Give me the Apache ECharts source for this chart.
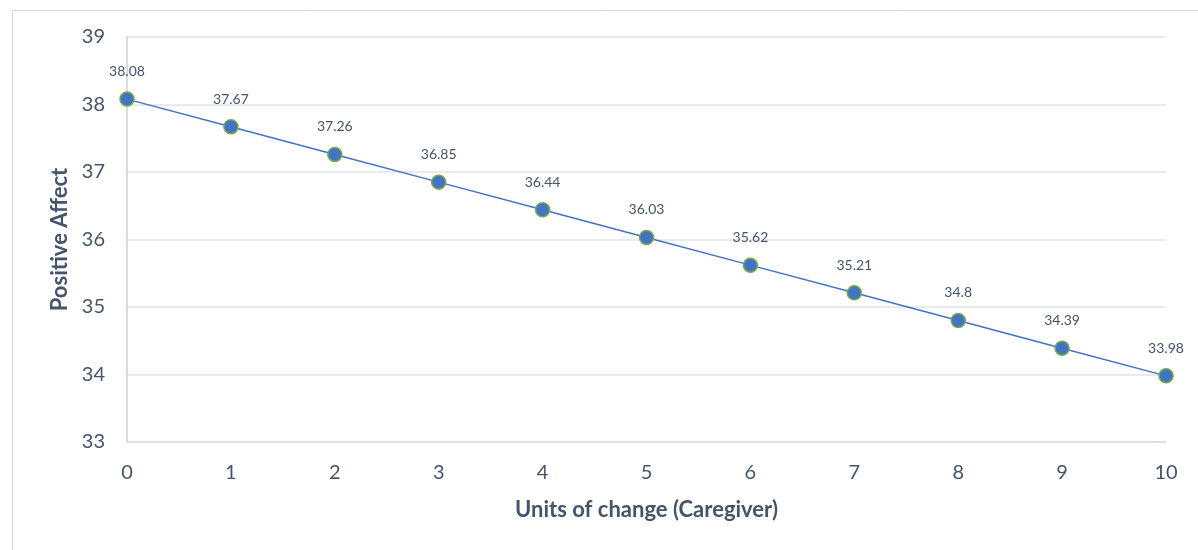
<!DOCTYPE html>
<html>
<head>
<meta charset="utf-8">
<script src="https://cdn.jsdelivr.net/npm/echarts@6/dist/echarts.min.js"></script>
<style>
html,body{margin:0;padding:0;background:#fff;}
#c{width:1198px;height:550px;}
</style>
</head>
<body>
<div id="c"></div>
<script>
const categories = ['0','1','2','3','4','5','6','7','8','9','10'];
const positiveAffect = [38.08, 37.67, 37.26, 36.85, 36.44, 36.03, 35.62, 35.21, 34.8, 34.39, 33.98];
const yTicks = {min: 33, max: 39, interval: 1};

const textColor = '#44546a';
const font = 'Lato, "Open Sans", sans-serif';
const chart = echarts.init(document.getElementById('c'));
chart.setOption({
  animation: false,
  backgroundColor: '#fff',
  graphic: [{
    type: 'rect', left: 10, top: 8,
    shape: {width: 1200, height: 560},
    style: {fill: 'none', stroke: '#d9d9d9', lineWidth: 1},
    silent: true, z: -10
  }],
  grid: {left: 127, right: 32, top: 37, bottom: 108, containLabel: false},
  xAxis: {
    type: 'category',
    data: categories,
    boundaryGap: false,
    name: 'Units of change (Caregiver)',
    nameLocation: 'middle',
    nameGap: 57,
    nameTextStyle: {color: textColor, fontSize: 22, fontWeight: 'bold', fontFamily: font},
    axisLine: {lineStyle: {color: '#d9dde4', width: 1.5}},
    axisTick: {show: false},
    axisLabel: {color: textColor, fontSize: 20, fontFamily: font, margin: 21},
    splitLine: {show: false}
  },
  yAxis: {
    type: 'value',
    min: yTicks.min, max: yTicks.max, interval: yTicks.interval,
    name: 'Positive Affect',
    nameLocation: 'middle',
    nameGap: 56,
    nameTextStyle: {color: textColor, fontSize: 22, fontWeight: 'bold', fontFamily: font},
    axisLine: {show: true, lineStyle: {color: '#c9d0dc', width: 1.5}},
    axisTick: {show: false},
    axisLabel: {color: textColor, fontSize: 20, fontFamily: font, margin: 22},
    splitLine: {lineStyle: {color: '#dfe3e8', width: 1.5}}
  },
  series: [{
    type: 'line',
    data: positiveAffect,
    symbol: 'circle',
    symbolSize: 14,
    lineStyle: {color: '#4472c4', width: 1.5},
    itemStyle: {color: '#4472c4', borderColor: '#70ad47', borderWidth: 1.5},
    label: {show: true, position: 'top', distance: 13, color: textColor, fontSize: 14, fontFamily: font}
  }]
});
</script>
</body>
</html>
